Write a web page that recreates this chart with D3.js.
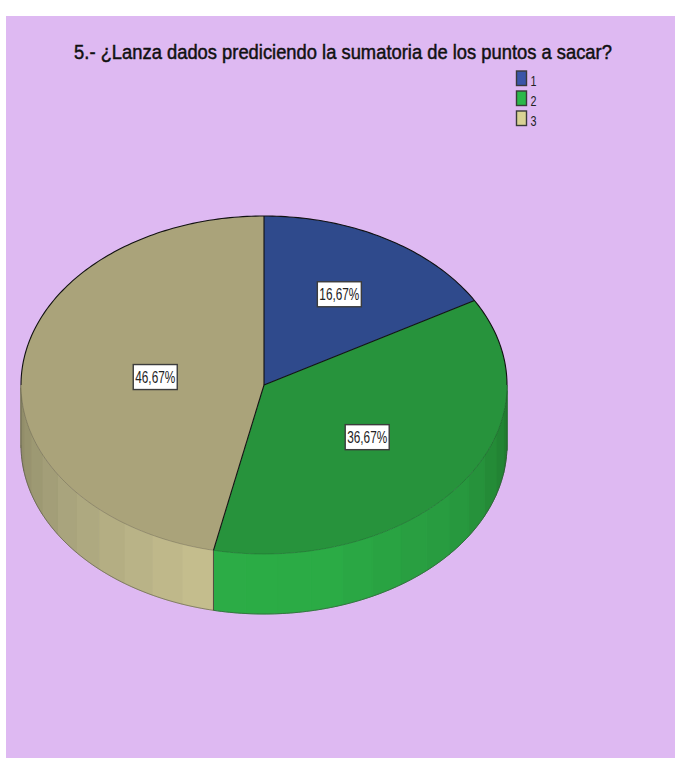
<!DOCTYPE html>
<html>
<head>
<meta charset="utf-8">
<script src="https://cdn.jsdelivr.net/npm/d3@7/dist/d3.min.js"></script>
<style>
html,body{margin:0;padding:0;background:#fff}
svg{display:block}
text{font-family:"Liberation Sans",Arial,sans-serif}
</style>
</head>
<body>
<svg id="chart" width="675" height="758"></svg>
<script>
// Survey answers and their shares
const titleText = "5.- ¿Lanza dados prediciendo la sumatoria de los puntos a sacar?";
const categories = ["1", "2", "3"];
const percentages = [16.67, 36.67, 46.67];
const percentLabels = ["16,67%", "36,67%", "46,67%"];

// Slice colours: legend swatch, top face
const legendColors = ["#3a55a8", "#2bb84a", "#d9d294"];
const topColors = ["#2f4a8c", "#27933c", "#aaa37a"];

const W = 675, H = 758;
const panel = {x: 6, y: 16};
const pie3d = {cx: 264, cy: 385, rx: 243, ry: 169, depth: 60};
const facetStep = 7.7; // degrees per shaded band on the rim
const toRad = Math.PI / 180;

const svg = d3.select("#chart");

svg.append("rect")
  .attr("x", panel.x).attr("y", panel.y)
  .attr("width", W - panel.x).attr("height", H - panel.y)
  .attr("fill", "#deb9f2");

// Title, condensed horizontally to its 538px run
const title = svg.append("text")
  .attr("text-anchor", "middle")
  .attr("font-size", 21)
  .attr("fill", "#111")
  .attr("stroke", "#111").attr("stroke-width", 0.5)
  .text(titleText);
const titleScale = 538 / title.node().getComputedTextLength();
title.attr("transform", `translate(343,59) scale(${titleScale},1)`);

// Legend
const legendY = d3.scalePoint().domain(categories).range([78, 118]);
const legend = svg.append("g").selectAll("g").data(categories).join("g")
  .attr("transform", d => `translate(516.5,${legendY(d) - 7})`);
legend.append("rect")
  .attr("width", 10).attr("height", 14.5)
  .attr("fill", (d, i) => legendColors[i])
  .attr("stroke", "#3a3a3a").attr("stroke-width", 1.4);
legend.append("text")
  .attr("x", 14).attr("y", 15)
  .attr("font-size", 15.5)
  .attr("textLength", 6).attr("lengthAdjust", "spacingAndGlyphs")
  .attr("fill", "#222")
  .text(d => d);

// Angles measured clockwise from twelve o'clock, via d3.pie
const arcs = d3.pie().value(d => d).sort(null)(percentages);
const px = a => pie3d.cx + pie3d.rx * Math.sin(a);
const py = (a, z = 0) => pie3d.cy - pie3d.ry * Math.cos(a) + z;
const deg = r => r / toRad;

function arcPoints(a0, a1, z) {
  const n = Math.max(2, Math.ceil(Math.abs(a1 - a0) / (toRad * 1)));
  return d3.range(n + 1).map(i => {
    const a = a0 + (a1 - a0) * i / n;
    return [px(a), py(a, z)];
  });
}
const line = d3.line();

// Rim shading follows the viewing angle of each band
const rimShades = [
  null,
  d3.scaleLinear().domain([90, 125, 165, 200]).range(["#1f782d", "#27973e", "#2bab45", "#2cad46"]).clamp(true),
  d3.scaleLinear().domain([192, 234, 270]).range(["#c7c08f", "#a9a47d", "#8d8a66"]).clamp(true)
];

const gRim = svg.append("g");
arcs.forEach((s, i) => {
  const start = Math.max(deg(s.startAngle), 90);
  const end = Math.min(deg(s.endAngle), 270);
  if (end <= start) return;
  const anchor = deg(arcs[2].startAngle);
  const kMin = Math.floor((start - anchor) / facetStep);
  const kMax = Math.ceil((end - anchor) / facetStep);
  d3.range(kMin, kMax).forEach(k => {
    const a0 = Math.max(anchor + k * facetStep, start);
    const a1 = Math.min(anchor + (k + 1) * facetStep, end);
    if (a1 <= a0) return;
    const pts = arcPoints(a0 * toRad, a1 * toRad, 0)
      .concat(arcPoints(a1 * toRad, a0 * toRad, pie3d.depth));
    gRim.append("path")
      .attr("d", line(pts) + "Z")
      .attr("fill", rimShades[i]((a0 + a1) / 2))
      .attr("stroke", rimShades[i]((a0 + a1) / 2))
      .attr("stroke-width", 1);
  });
});

// Rim outline: lower edge, outer verticals, seam between answers 2 and 3
gRim.append("path")
  .attr("d", line(arcPoints(90 * toRad, 270 * toRad, pie3d.depth)))
  .attr("fill", "none").attr("stroke", "#3d3a3a").attr("stroke-opacity", 0.6).attr("stroke-width", 0.8);
gRim.append("path")
  .attr("d", line([[px(arcs[2].startAngle), py(arcs[2].startAngle)], [px(arcs[2].startAngle), py(arcs[2].startAngle, pie3d.depth)]]))
  .attr("fill", "none").attr("stroke", "#222").attr("stroke-opacity", 0.8).attr("stroke-width", 0.9);
[90, 270].forEach(a => {
  gRim.append("path")
    .attr("d", line([[px(a * toRad), py(a * toRad)], [px(a * toRad), py(a * toRad, pie3d.depth)]]))
    .attr("fill", "none").attr("stroke", "#333").attr("stroke-opacity", 0.4).attr("stroke-width", 0.8);
});

// Top face
const gTop = svg.append("g");
arcs.forEach((s, i) => {
  const pts = [[pie3d.cx, pie3d.cy]].concat(arcPoints(s.startAngle, s.endAngle, 0));
  gTop.append("path").attr("d", line(pts) + "Z").attr("fill", topColors[i]);
});

// Lower rim of the top face stays faint, upper half and radii are black
gTop.append("path")
  .attr("d", line(arcPoints(90 * toRad, 270 * toRad, 0)))
  .attr("fill", "none").attr("stroke", "#1a1a1a").attr("stroke-opacity", 0.25).attr("stroke-width", 0.8);
gTop.append("path")
  .attr("d", line(arcPoints(-90 * toRad, 90 * toRad, 0)))
  .attr("fill", "none").attr("stroke", "#111").attr("stroke-width", 1.1);
arcs.forEach(s => {
  gTop.append("path")
    .attr("d", line([[pie3d.cx, pie3d.cy], [px(s.startAngle), py(s.startAngle)]]))
    .attr("fill", "none").attr("stroke", "#111").attr("stroke-width", 1.1);
});

// Value labels sit further in as a slice gets larger
const labelRadius = d3.scaleLinear().domain([16.67, 36.67, 46.67]).range([0.62, 0.525, 0.45]);
const gLabels = svg.append("g");
arcs.forEach((s, i) => {
  const mid = (s.startAngle + s.endAngle) / 2;
  const k = labelRadius(s.data);
  const lx = pie3d.cx + k * pie3d.rx * Math.sin(mid);
  const ly = pie3d.cy - k * pie3d.ry * Math.cos(mid);
  gLabels.append("rect")
    .attr("x", lx - 22).attr("y", ly - 12.5)
    .attr("width", 44).attr("height", 25)
    .attr("fill", "#fff")
    .attr("stroke", "#3c3c3c").attr("stroke-width", 1.4);
  gLabels.append("text")
    .attr("x", lx).attr("y", ly + 6)
    .attr("text-anchor", "middle")
    .attr("font-size", 16.5)
    .attr("textLength", 40).attr("lengthAdjust", "spacingAndGlyphs")
    .attr("fill", "#222")
    .text(percentLabels[i]);
});
</script>
</body>
</html>
